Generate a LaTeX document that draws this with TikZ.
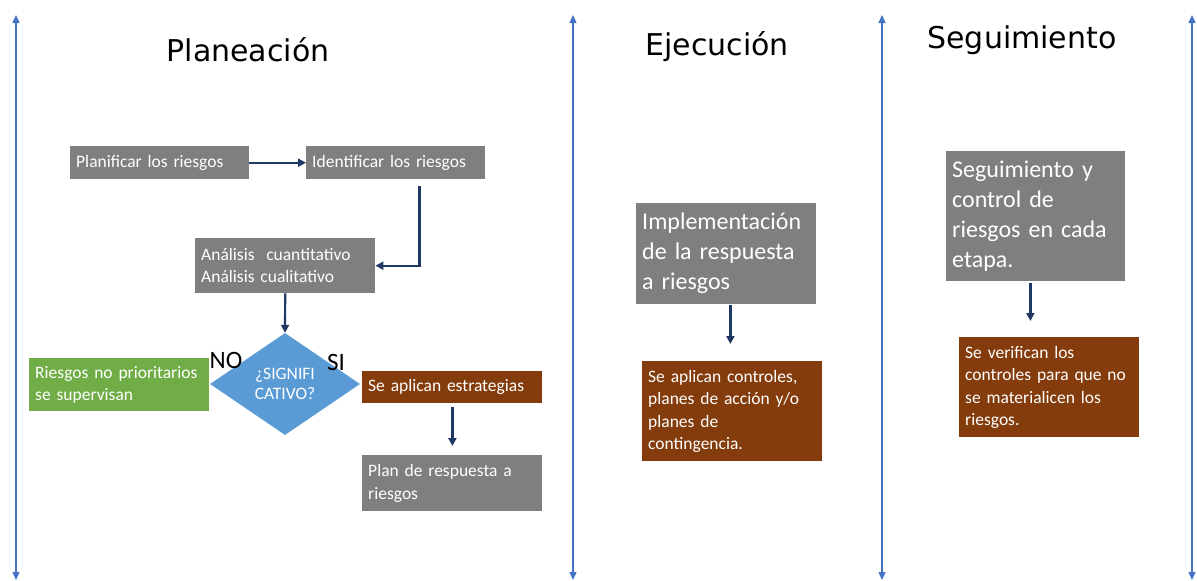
\documentclass[tikz,border=0pt]{standalone}
\usepackage{fontspec}
\setmainfont{Carlito}
\newfontfamily\titlefont{DejaVu Sans}
\usetikzlibrary{arrows.meta,shapes.geometric}
\definecolor{gris}{HTML}{7F7F7F}
\definecolor{marino}{HTML}{1F3864}
\definecolor{azul}{HTML}{4472C4}
\definecolor{celeste}{HTML}{5B9BD5}
\definecolor{verde}{HTML}{70AD47}
\definecolor{cafe}{HTML}{843C0C}
\tikzstyle{caja} = [anchor=north west,inner xsep=6pt,inner ysep=0pt,align=left,text=white,font=\fontsize{17.5}{22.5}\selectfont]
\tikzstyle{cajagrande} = [caja,font=\fontsize{24}{30}\selectfont]
\tikzstyle{flecha} = [line width=2.2pt,draw=marino,-{Triangle[length=8pt,width=8pt]}]
\tikzstyle{eje} = [line width=1.3pt,draw=azul,{Triangle[length=8pt,width=7pt]}-{Triangle[length=8pt,width=7pt]}]
\tikzstyle{titulo} = [anchor=base,font=\titlefont\fontsize{30}{34}\selectfont]

\begin{document}
\begin{tikzpicture}[x=1pt,y=-1pt]
	\useasboundingbox (0,0) rectangle (1197,581);
	
	% Draw the stage lines
	\foreach \x [count=\i] in {16,573,882,1192} {
		\coordinate (arriba\i) at (\x,15);
		\coordinate (abajo\i) at (\x,580);
		\draw[eje] (abajo\i) -- (arriba\i);
	}
	
	% Titles
	\node[titulo] (tplan) at (248,61) {Planeación};
	\node[titulo] (tejec) at (717,55) {Ejecución};
	\node[titulo] (tseg) at (1022,48) {Seguimiento};
	
	% Planning boxes
	\node[caja,fill=gris,minimum width=179pt,minimum height=33pt,text width=167pt] (planificar) at (70,146) {Planificar los riesgos};
	\node[caja,fill=gris,minimum width=179pt,minimum height=33pt,text width=167pt] (identificar) at (306,146) {Identificar los riesgos};
	\node[caja,fill=gris,minimum width=180pt,minimum height=55pt,text width=168pt] (analisis) at (195,238) {Análisis\ \ cuantitativo\\Análisis cualitativo};
	\node[diamond,fill=celeste,aspect=1.47,minimum width=150pt,minimum height=102pt,inner sep=0pt,align=center,text=white,font=\fontsize{17.5}{20}\selectfont] (decision) at (285,384) {¿SIGNIFI\\CATIVO?};
	\node[caja,fill=verde,minimum width=180pt,minimum height=53pt,text width=168pt] (noprio) at (29,358) {Riesgos no prioritarios\\se supervisan};
	\node[caja,fill=cafe,minimum width=180pt,minimum height=32pt,text width=168pt] (estrategias) at (362,371) {Se aplican estrategias};
	\node[caja,fill=gris,minimum width=180pt,minimum height=56pt,text width=168pt] (respuesta) at (362,455) {Plan de respuesta a\\riesgos};
	
	% Decision labels
	\node[anchor=base,font=\fontsize{25}{30}\selectfont] (no) at (226,368) {NO};
	\node[anchor=base,font=\fontsize{25}{30}\selectfont] (si) at (336,370) {SI};
	
	% Execution boxes
	\node[cajagrande,fill=gris,minimum width=180pt,minimum height=101pt,text width=168pt] (implementa) at (636,203) {Implementación\\de la respuesta\\a riesgos};
	\node[caja,fill=cafe,minimum width=180pt,minimum height=100pt,text width=168pt] (controles) at (642,361) {Se aplican controles,\\planes de acción y/o\\planes de\\contingencia.};
	
	% Monitoring boxes
	\node[cajagrande,fill=gris,minimum width=179pt,minimum height=130pt,text width=167pt] (seguimiento) at (946,151) {Seguimiento y\\control de\\riesgos en cada\\etapa.};
	\node[caja,fill=cafe,minimum width=180pt,minimum height=100pt,text width=168pt] (verifican) at (959,337) {Se verifican los\\controles para que no\\se materialicen los\\riesgos.};
	
	% Arrows
	\draw[flecha] (planificar.east) -- (identificar.west);
	\draw[flecha,shorten <=7pt] ([xshift=-66pt]identificar.south east) |- (analisis.east);
	\draw[flecha] (analisis.south) -- (decision.north);
	\draw[flecha,shorten <=4pt,shorten >=9pt] ([xshift=-90pt]estrategias.south east) -- ([xshift=-90pt]respuesta.north east);
	\draw[flecha,shorten <=1pt,shorten >=17pt] ([xshift=-86pt]implementa.south east) -- ([xshift=-86pt]implementa.south east |- controles.north);
	\draw[flecha,shorten <=2pt,shorten >=16pt] ([xshift=-95pt]seguimiento.south east) -- ([xshift=-95pt]seguimiento.south east |- verifican.north);
	
\end{tikzpicture}
\end{document}
